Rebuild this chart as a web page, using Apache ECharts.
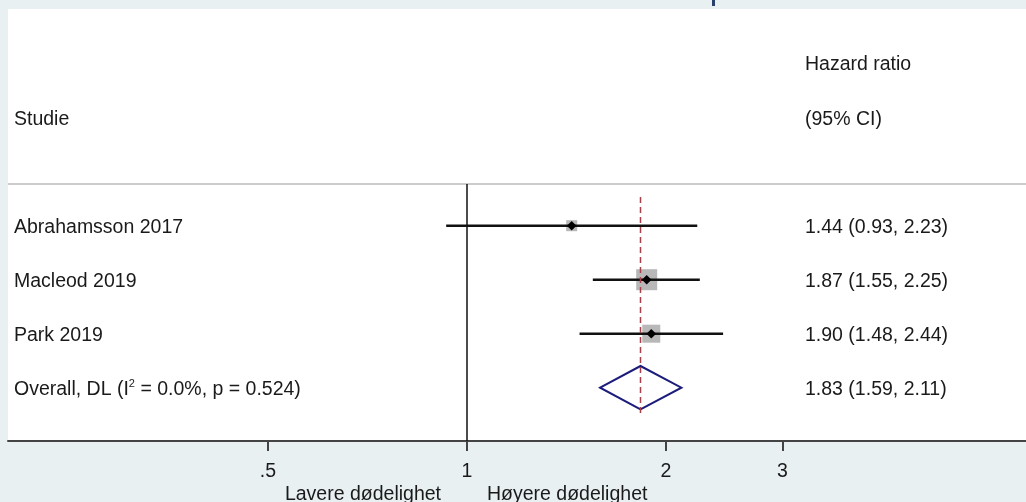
<!DOCTYPE html>
<html><head><meta charset="utf-8">
<script src="https://cdn.jsdelivr.net/npm/echarts@6/dist/echarts.min.js"></script>
<style>html,body{margin:0;padding:0;background:#e8f0f2;} #c{width:1026px;height:502px;}</style>
</head><body><div id="c"></div>
<script>
// ---- data ----
const studies = ['Abrahamsson 2017', 'Macleod 2019', 'Park 2019'];
const hr = [1.44, 1.87, 1.90];
const ciLow = [0.93, 1.55, 1.48];
const ciHigh = [2.23, 2.25, 2.44];
const weights = [13.7, 49.8, 36.6];
const hrText = ['1.44 (0.93, 2.23)', '1.87 (1.55, 2.25)', '1.90 (1.48, 2.44)'];
const overallLabel = 'Overall, DL (I{sup|2} = 0.0%, p = 0.524)';
const overallHr = 1.83, overallLow = 1.59, overallHigh = 2.11;
const overallText = '1.83 (1.59, 2.11)';
const tickValues = [0.5, 1, 2, 3];
const tickLabels = ['.5', '1', '2', '3'];
const headerStudy = 'Studie';
const headerHr1 = 'Hazard ratio';
const headerHr2 = '(95% CI)';
const favourLeft = 'Lavere dødelighet';
const favourRight = 'Høyere dødelighet';

const L = Math.log2;
const FONT = '"Liberation Sans", Arial, sans-serif';
const FS = 19.5;
const TXT = '#1a1a1a';
const TY = 2; // text baseline nudge

const chart = echarts.init(document.getElementById('c'), null, {renderer: 'canvas'});
const xMin = -2.3065, xMax = 2.809;
const yMin = 0.228, yMax = 4.987;

const studyData = studies.map((s, i) => [i]);

const option = {
  backgroundColor: '#e8f0f2',
  animation: false,
  grid: {left: 8, right: 0, top: 184, bottom: 61},
  xAxis: {
    type: 'value', min: xMin, max: xMax,
    axisLine: {show: true, lineStyle: {color: '#444', width: 2}},
    axisTick: {show: true, length: 10, lineStyle: {color: '#444', width: 2}, customValues: tickValues.map(L)},
    axisLabel: {
      customValues: tickValues.map(L),
      margin: 21, fontSize: FS, fontFamily: FONT, color: TXT,
      formatter: v => {
        let k = tickValues.findIndex(t => Math.abs(L(t) - v) < 1e-6);
        return k >= 0 ? tickLabels[k] : '';
      }
    },
    splitLine: {show: false}
  },
  yAxis: {type: 'value', min: yMin, max: yMax, inverse: true, show: false},
  series: [
    {
      // null line at HR = 1
      type: 'custom', z: 2, data: [[0]],
      renderItem: (params, api) => {
        const a = api.coord([0, yMin]), b = api.coord([0, yMax]);
        return {type: 'line', shape: {x1: a[0], y1: a[1], x2: b[0], y2: b[1]}, style: {stroke: '#111', lineWidth: 1.5}};
      }
    },
    {
      type: 'custom', z: 3, data: studyData,
      renderItem: (params, api) => {
        const i = api.value(0), row = i + 1;
        const p = api.coord([L(hr[i]), row]);
        const a = api.coord([L(ciLow[i]), row]);
        const b = api.coord([L(ciHigh[i]), row]);
        const s = 2.976 * Math.sqrt(weights[i]);
        const d = 4.8;
        return {type: 'group', children: [
          {type: 'rect', shape: {x: p[0] - s / 2, y: p[1] - s / 2, width: s, height: s}, style: {fill: '#b8b8b8'}},
          {type: 'line', shape: {x1: a[0], y1: a[1], x2: b[0], y2: b[1]}, style: {stroke: '#111', lineWidth: 2.5}},
          {type: 'polygon', shape: {points: [[p[0] - d, p[1]], [p[0], p[1] - d], [p[0] + d, p[1]], [p[0], p[1] + d]]}, style: {fill: '#000'}},
          {type: 'text', x: 14, y: p[1] + TY, style: {text: studies[i], font: FS + 'px ' + FONT, fill: TXT, verticalAlign: 'middle'}},
          {type: 'text', x: 805, y: p[1] + TY, style: {text: hrText[i], font: FS + 'px ' + FONT, fill: TXT, verticalAlign: 'middle'}}
        ]};
      }
    },
    {
      type: 'custom', z: 4, data: [[4]],
      renderItem: (params, api) => {
        const row = api.value(0);
        const c = api.coord([L(overallHr), row]);
        const a = api.coord([L(overallLow), row]);
        const b = api.coord([L(overallHigh), row]);
        const h = 21.7;
        const t = api.coord([L(overallHr), 0.47]);
        const e = api.coord([L(overallHr), 4.51]);
        return {type: 'group', children: [
          {type: 'polygon', shape: {points: [[a[0], a[1]], [c[0], c[1] - h], [b[0], b[1]], [c[0], c[1] + h]]}, style: {fill: 'none', stroke: '#1c1c7c', lineWidth: 2}},
          {type: 'line', shape: {x1: t[0], y1: t[1], x2: e[0], y2: e[1]}, style: {stroke: '#a8404c', lineWidth: 1.5, lineDash: [6, 4]}},
          {type: 'text', x: 14, y: c[1] + TY, style: {
            text: overallLabel, font: FS + 'px ' + FONT, fill: TXT, verticalAlign: 'middle',
            rich: {sup: {fontSize: 11, fontFamily: FONT, fill: TXT, verticalAlign: 'top', padding: [0, 0, 12, 0]}}
          }},
          {type: 'text', x: 805, y: c[1] + TY, style: {text: overallText, font: FS + 'px ' + FONT, fill: TXT, verticalAlign: 'middle'}}
        ]};
      }
    }
  ]
};
chart.setOption(option);

const x1 = chart.convertToPixel({xAxisIndex: 0}, 0);
chart.setOption({graphic: [
  {type: 'rect', z: -10, shape: {x: 8, y: 9, width: 1018, height: 432}, style: {fill: '#ffffff'}},
  {type: 'line', z: 1, shape: {x1: 8, y1: 184, x2: 1026, y2: 184}, style: {stroke: '#cccccc', lineWidth: 2}},
  {type: 'rect', z: 1, shape: {x: 712, y: 0, width: 3, height: 6}, style: {fill: '#2b3f6c'}},
  {type: 'text', x: 14, y: 118 + TY, style: {text: headerStudy, font: FS + 'px ' + FONT, fill: TXT, verticalAlign: 'middle'}},
  {type: 'text', x: 805, y: 63 + TY, style: {text: headerHr1, font: FS + 'px ' + FONT, fill: TXT, verticalAlign: 'middle'}},
  {type: 'text', x: 805, y: 118 + TY, style: {text: headerHr2, font: FS + 'px ' + FONT, fill: TXT, verticalAlign: 'middle'}},
  {type: 'text', x: x1 - 26, y: 493 + TY, style: {text: favourLeft, font: FS + 'px ' + FONT, fill: TXT, align: 'right', verticalAlign: 'middle'}},
  {type: 'text', x: x1 + 20, y: 493 + TY, style: {text: favourRight, font: FS + 'px ' + FONT, fill: TXT, align: 'left', verticalAlign: 'middle'}}
]});
</script>
</body></html>
